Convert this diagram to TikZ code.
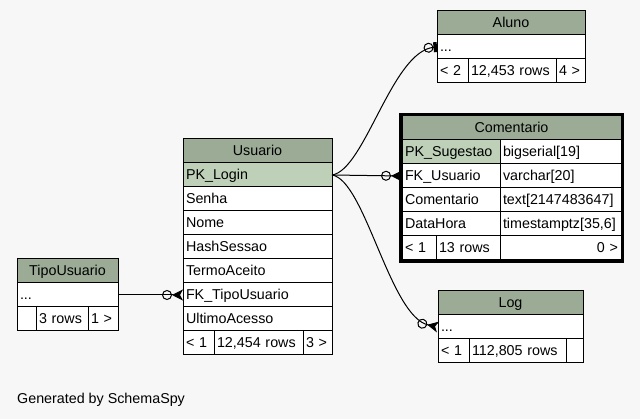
\documentclass[tikz,border=0pt]{standalone}
\usepackage{fontspec}
\setmainfont{Liberation Sans}
\usepackage{xcolor}
\usepackage{tikz}
\usetikzlibrary{arrows.meta}
\definecolor{bgpage}{HTML}{F7F7F7}
\definecolor{hdrgreen}{HTML}{9BAB96}
\definecolor{pkgreen}{HTML}{BED1B8}
\newcommand{\tabfont}{\fontsize{14.3}{16}\selectfont}

\begin{document}
\begin{tikzpicture}[x=1pt,y=-1pt,
  cell/.style={draw,line width=1pt,fill=white,anchor=north west,inner xsep=3pt,inner ysep=0pt,outer sep=0pt,minimum height=24pt,text height=11pt,text depth=2pt,align=left,font=\tabfont},
  hdr/.style={cell,fill=hdrgreen,align=center},
  pk/.style={cell,fill=pkgreen},
  crowodot/.style={line width=1pt,-{Circle[open,length=10pt,width=10pt] Stealth[reversed,length=11pt,width=11pt,inset=3pt]}},
  teeodot/.style={line width=1pt,-{Circle[open,length=10pt,width=10pt] Rectangle[length=3.5pt,width=10pt]}}]
\fill[bgpage] (0,0) rectangle (640,419);
\useasboundingbox (0,0) rectangle (640,419);

\node[hdr,text width=143pt] (usuario) at (183,139) {Usuario};
\node[pk,text width=143pt] (usr-login) at (183,163) {PK\_Login};
\node[cell,text width=143pt] (usr-senha) at (183,187) {Senha};
\node[cell,text width=143pt] (usr-nome) at (183,211) {Nome};
\node[cell,text width=143pt] (usr-hash) at (183,235) {HashSessao};
\node[cell,text width=143pt] (usr-termo) at (183,259) {TermoAceito};
\node[cell,text width=143pt] (usr-fktipo) at (183,283) {FK\_TipoUsuario};
\node[cell,text width=143pt] (usr-acesso) at (183,307) {UltimoAcesso};
\node[cell,text width=25pt] (usr-foot1) at (183,331) {< 1};
\node[cell,text width=83pt] (usr-foot2) at (214,331) {12,454 rows};
\node[cell,text width=23pt] (usr-foot3) at (303,331) {3 >};

\node[hdr,text width=142pt] (aluno) at (437,11) {Aluno};
\node[cell,text width=142pt] (aluno-row) at (437,35) {...};
\node[cell,text width=25pt] (aluno-foot1) at (437,59) {< 2};
\node[cell,text width=82pt] (aluno-foot2) at (468,59) {12,453 rows};
\node[cell,text width=23pt] (aluno-foot3) at (556,59) {4 >};

\node[hdr,text width=213pt] (comentario) at (402,116) {Comentario};
\node[pk,text width=92pt] (com-pk) at (402,140) {PK\_Sugestao};
\node[cell,text width=115pt] (com-pk-t) at (500,140) {bigserial[19]};
\node[cell,text width=92pt] (com-fk) at (402,164) {FK\_Usuario};
\node[cell,text width=115pt] (com-fk-t) at (500,164) {varchar[20]};
\node[cell,text width=92pt] (com-txt) at (402,188) {Comentario};
\node[cell,text width=115pt] (com-txt-t) at (500,188) {text[2147483647]};
\node[cell,text width=92pt] (com-data) at (402,212) {DataHora};
\node[cell,text width=115pt] (com-data-t) at (500,212) {timestamptz[35,6]};
\node[cell,text width=28pt] (com-foot1) at (402,236) {< 1};
\node[cell,text width=58pt] (com-foot2) at (436,236) {13 rows};
\node[cell,text width=115pt,align=right] (com-foot3) at (500,236) {0 >};
\draw[line width=3pt] ([shift={(-1.5,-1.5)}]comentario.north west) rectangle ([shift={(1.5,1.5)}]com-foot3.south east);

\node[hdr,text width=139pt] (log) at (438,291) {Log};
\node[cell,text width=139pt] (log-row) at (438,315) {...};
\node[cell,text width=25pt] (log-foot1) at (438,339) {< 1};
\node[cell,text width=91pt] (log-foot2) at (469,339) {112,805 rows};
\node[cell,text width=11pt] (log-foot3) at (566,339) {};

\node[hdr,text width=95pt] (tipousuario) at (17,259) {TipoUsuario};
\node[cell,text width=95pt] (tipo-row) at (17,283) {...};
\node[cell,text width=13pt] (tipo-foot1) at (17,307) {};
\node[cell,text width=46pt] (tipo-foot2) at (36,307) {3 rows};
\node[cell,text width=24pt] (tipo-foot3) at (88,307) {1 >};

\draw[teeodot] (usr-login.east) .. controls +(33,-5) and +(-45,4) .. (aluno-row.west);
\draw[crowodot] (usr-login.east) -- (com-fk.west);
\draw[crowodot] (usr-login.east) .. controls +(33,5) and +(-48,-10) .. (log-row.west);
\draw[crowodot] (tipo-row.east) -- (usr-fktipo.west);

\node[anchor=base west,font=\tabfont,inner sep=0pt] (credit) at (17,404) {Generated by SchemaSpy};
\end{tikzpicture}
\end{document}
